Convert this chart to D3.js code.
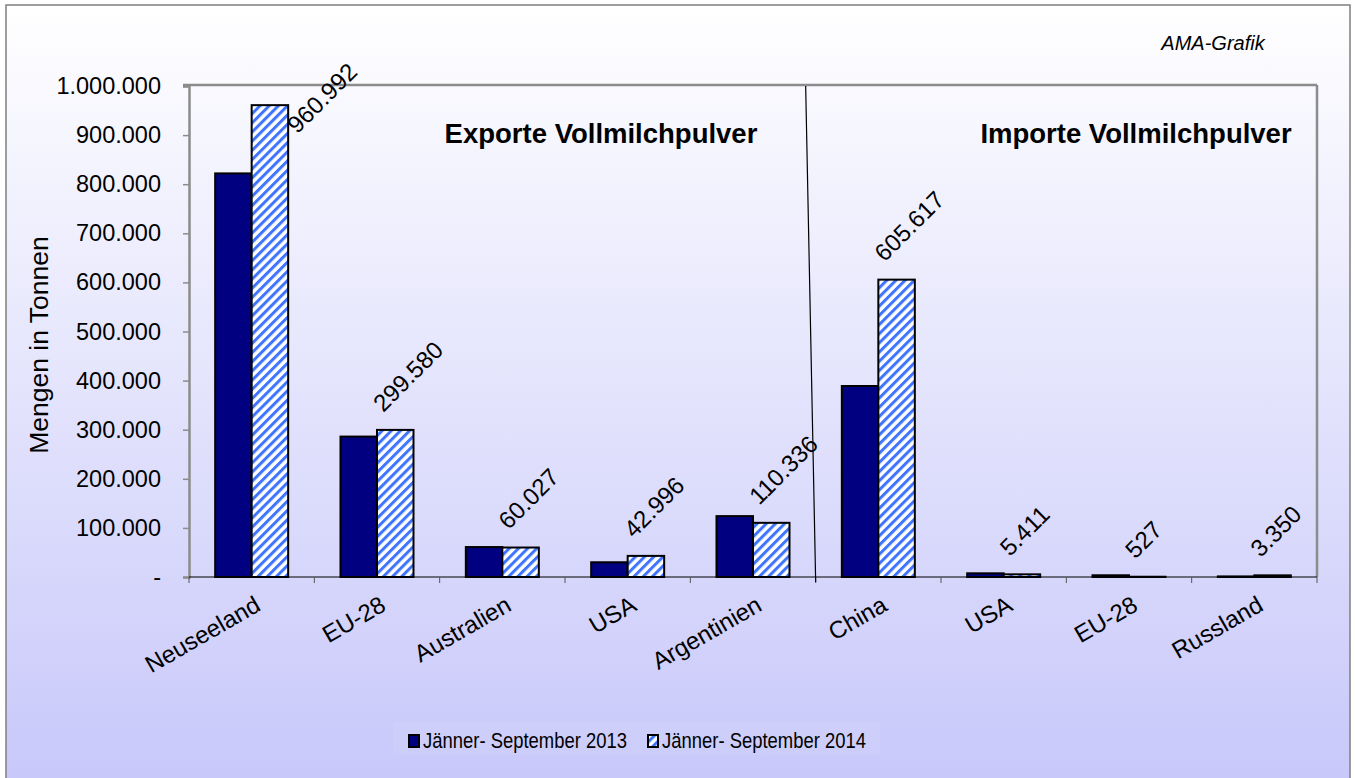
<!DOCTYPE html>
<html>
<head>
<meta charset="utf-8">
<script src="https://cdn.jsdelivr.net/npm/d3@7"></script>
<style>
  html, body { margin: 0; padding: 0; background: #ffffff; }
  svg { display: block; }
  text { font-family: "Liberation Sans", Arial, sans-serif; fill: #000; }
</style>
</head>
<body>
<svg id="chart" width="1355" height="778"></svg>
<script>
// ---------- data ----------
const categories = ["Neuseeland", "EU-28", "Australien", "USA", "Argentinien", "China", "USA", "EU-28", "Russland"];
const seriesNames = ["Jänner- September 2013", "Jänner- September 2014"];
const values2013 = [822000, 286000, 61000, 30000, 124000, 389000, 7500, 3500, 1200];
const values2014 = [960992, 299580, 60027, 42996, 110336, 605617, 5411, 527, 3350];
const yTicks = [0, 100000, 200000, 300000, 400000, 500000, 600000, 700000, 800000, 900000, 1000000];
const sectionTitles = ["Exporte Vollmilchpulver", "Importe Vollmilchpulver"];
const exportCount = 5;
const yTitle = "Mengen in Tonnen";
const sourceNote = "AMA-Grafik";

// ---------- setup ----------
const W = 1355, H = 778;
const svg = d3.select("#chart");
const defs = svg.append("defs");

const bg = defs.append("linearGradient").attr("id", "bg").attr("x1", 0).attr("y1", 0).attr("x2", 0).attr("y2", 1);
bg.append("stop").attr("offset", "0%").attr("stop-color", "#ffffff");
bg.append("stop").attr("offset", "100%").attr("stop-color", "#c6c6fa");

const hatch = defs.append("pattern").attr("id", "hatch")
  .attr("patternUnits", "userSpaceOnUse").attr("width", 6.5).attr("height", 6.5)
  .attr("patternTransform", "rotate(45)");
hatch.append("rect").attr("width", 6.5).attr("height", 6.5).attr("fill", "#ffffff");
hatch.append("rect").attr("x", 0).attr("width", 3).attr("height", 6.5).attr("fill", "#3f74ff");

svg.append("rect").attr("width", W).attr("height", H).attr("fill", "#ffffff");
svg.append("rect").attr("x", 6).attr("y", 5).attr("width", 1344).attr("height", 800)
  .attr("fill", "url(#bg)").attr("stroke", "#7f7f7f").attr("stroke-width", 1.5);

const plot = { left: 189, right: 1317, top: 85, bottom: 577 };

const y = d3.scaleLinear().domain([0, 1000000]).range([plot.bottom, plot.top + 1]);
const x0 = d3.scaleBand().domain(d3.range(categories.length)).range([plot.left, plot.right]).padding(0);
const x1 = d3.scaleBand().domain([0, 1]).range([0, x0.bandwidth()]).paddingInner(0).paddingOuter(0.717);

const loc = d3.formatLocale({ decimal: ",", thousands: ".", grouping: [3], currency: ["", "€"] });
const fmt = loc.format(",d");
const tickFmt = v => v === 0 ? "-" : fmt(v);

// plot frame (top & right gray)
svg.append("line").attr("x1", plot.left - 6).attr("x2", plot.right).attr("y1", plot.top).attr("y2", plot.top)
  .attr("stroke", "#8c8c8c").attr("stroke-width", 2.5);
svg.append("line").attr("x1", plot.right).attr("x2", plot.right).attr("y1", plot.top).attr("y2", plot.bottom)
  .attr("stroke", "#8c8c8c").attr("stroke-width", 2.5);

// y axis
const yAxis = d3.axisLeft(y).tickValues(yTicks).tickFormat(tickFmt).tickSize(6).tickPadding(22);
const gy = svg.append("g").attr("transform", `translate(${plot.left},0)`).call(yAxis);
gy.select(".domain").attr("stroke", "#8c8c8c").attr("stroke-width", 2.5);
gy.selectAll(".tick line").attr("stroke", "#8c8c8c").attr("stroke-width", 1.5);
gy.selectAll(".tick text").attr("font-size", 23.5).attr("font-family", "Liberation Sans, Arial, sans-serif").attr("fill", "#000");

svg.append("text").attr("transform", `translate(48,345) rotate(-90)`)
  .attr("text-anchor", "middle").attr("font-size", 26.5).text(yTitle);

// bars
const seriesVals = [values2013, values2014];
const groups = svg.append("g").selectAll("g").data(categories.map((c, i) => i)).join("g")
  .attr("transform", i => `translate(${x0(i)},0)`);
groups.selectAll("rect").data(i => [0, 1].map(s => ({ s, v: seriesVals[s][i] }))).join("rect")
  .attr("x", d => x1(d.s)).attr("width", x1.bandwidth())
  .attr("y", d => y(d.v)).attr("height", d => plot.bottom - y(d.v))
  .attr("fill", d => d.s === 0 ? "#000080" : "url(#hatch)")
  .attr("stroke", "#000").attr("stroke-width", 2);

// x axis
const xAxisLine = svg.append("g");
xAxisLine.append("line").attr("x1", plot.left).attr("x2", plot.right).attr("y1", plot.bottom).attr("y2", plot.bottom)
  .attr("stroke", "#000").attr("stroke-width", 1);
const bounds = d3.range(categories.length + 1).map(i => i < categories.length ? x0(i) : plot.right);
xAxisLine.selectAll("line.tk").data(bounds).join("line").attr("class", "tk")
  .attr("x1", d => d).attr("x2", d => d).attr("y1", plot.bottom).attr("y2", plot.bottom + 6)
  .attr("stroke", "#555").attr("stroke-width", 1);

svg.append("g").selectAll("text").data(categories.map((c, i) => ({ c, i }))).join("text")
  .attr("transform", d => `translate(${x0(d.i) + x0.bandwidth() / 2 + 2},${plot.bottom + 18}) rotate(-30)`)
  .attr("text-anchor", "end").attr("dy", "0.7em").attr("font-size", 24).text(d => d.c);

// data labels for 2014
const lblSize = 24;
svg.append("g").selectAll("text").data(values2014.map((v, i) => ({ v, i }))).join("text")
  .attr("font-size", lblSize)
  .text(d => fmt(d.v))
  .attr("transform", function (d) {
    const cx = x0(d.i) + x1(1) + x1.bandwidth() / 2;
    let ax = cx - 12, ay = y(d.v) - 17;
    const len = this.getComputedTextLength();
    const top = ay - len * 0.7071 - lblSize * 0.72 * 0.7071;
    const minTop = 61;
    if (top < minTop) { const s = minTop - top; ax += s * 0.85; ay += s; }
    return `translate(${ax},${ay}) rotate(-45)`;
  });

// divider line
const divX = x0(exportCount);
svg.append("line").attr("x1", divX - 10).attr("y1", plot.top + 1).attr("x2", divX).attr("y2", plot.bottom + 5)
  .attr("stroke", "#000").attr("stroke-width", 1.2);

// section titles
svg.append("text").attr("x", 601).attr("y", 143).attr("text-anchor", "middle")
  .attr("font-family", "Lato, 'Open Sans', sans-serif").attr("font-weight", "bold").attr("font-size", 27.5)
  .text(sectionTitles[0]);
svg.append("text").attr("x", 1136).attr("y", 143).attr("text-anchor", "middle")
  .attr("font-family", "Lato, 'Open Sans', sans-serif").attr("font-weight", "bold").attr("font-size", 27.5)
  .text(sectionTitles[1]);

// source note
svg.append("text").attr("x", 1213).attr("y", 50).attr("text-anchor", "middle")
  .attr("font-style", "italic").attr("font-size", 20).text(sourceNote);

// legend
const lg = svg.append("g");
lg.append("rect").attr("x", 393).attr("y", 722).attr("width", 487).attr("height", 33)
  .attr("fill", "#ffffff").attr("opacity", 0.07);
const legX = [409, 648];
seriesNames.forEach((name, s) => {
  lg.append("rect").attr("x", legX[s]).attr("y", 735).attr("width", 10).attr("height", 12)
    .attr("fill", s === 0 ? "#000080" : "url(#hatch)").attr("stroke", "#000").attr("stroke-width", 2);
  lg.append("text").attr("transform", `translate(${legX[s] + 14},748) scale(0.82,1)`)
    .attr("font-size", 22.5).text(name);
});
</script>
</body>
</html>
